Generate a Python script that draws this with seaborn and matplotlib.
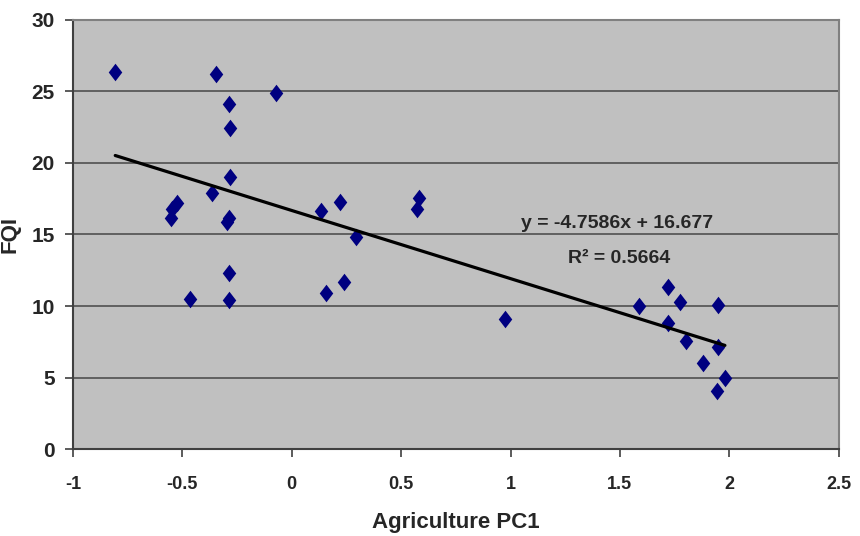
import numpy as np
import pandas as pd
import matplotlib
matplotlib.use("Agg")
import matplotlib.pyplot as plt
from matplotlib.path import Path
import seaborn as sns

# valores
agri_pc1 = [-0.807, -0.345, -0.072, -0.287, -0.284, -0.284, -0.363, -0.526,
            -0.549, -0.552, -0.298, -0.287, -0.287, -0.287, -0.465,
            0.133, 0.220, 0.295, 0.156, 0.239, 0.583, 0.571, 0.973,
            1.588, 1.718, 1.774, 1.947, 1.718, 1.800, 1.947, 1.878, 1.980, 1.942]
fqi = [26.37, 26.19, 24.86, 24.09, 22.42, 19.02, 17.87, 17.17,
       16.75, 16.16, 15.89, 16.12, 12.33, 10.43, 10.52,
       16.65, 17.28, 14.84, 10.93, 11.66, 17.52, 16.75, 9.10,
       10.03, 11.35, 10.26, 10.08, 8.84, 7.59, 7.17, 6.05, 4.97, 4.08]

# linha de tendência (como mostrada no gráfico)
slope = -4.7586
intercept = 16.677
r_squared = 0.5664

x_ticks = [-1, -0.5, 0, 0.5, 1, 1.5, 2, 2.5]
x_tick_labels = ["-1", "-0.5", "0", "0.5", "1", "1.5", "2", "2.5"]
y_ticks = [0, 5, 10, 15, 20, 25, 30]

df = pd.DataFrame({"Agriculture PC1": agri_pc1, "FQI": fqi})

sns.set_style("white")
plt.rcParams["font.family"] = ["Liberation Sans", "DejaVu Sans"]

fig = plt.figure(figsize=(8.6, 5.36), dpi=100)
ax = fig.add_axes([0.0849, 0.1618, 0.8903, 0.8014])
ax.set_facecolor("#C0C0C0")

# losango um pouco mais alto que largo (estilo Excel)
diamond = Path([(0, 1), (0.77, 0), (0, -1), (-0.77, 0), (0, 1)],
               [Path.MOVETO, Path.LINETO, Path.LINETO, Path.LINETO, Path.CLOSEPOLY])

ax.yaxis.grid(True, color="#505050", linewidth=1.2, zorder=0)
ax.set_axisbelow(True)

sns.scatterplot(data=df, x="Agriculture PC1", y="FQI", ax=ax, marker=diamond,
                s=160, color="#000080", edgecolor="#000080", linewidth=0, zorder=3)

x_line = np.array([min(agri_pc1), max(agri_pc1)])
ax.plot(x_line, slope * x_line + intercept, color="black", linewidth=2.3, zorder=4)

ax.text(1.485, 15.78, f"y = {slope}x + {intercept}", ha="center", va="center",
        fontsize=14, fontweight="bold", zorder=5)
ax.text(1.495, 13.34, f"R\u00b2 = {r_squared}", ha="center", va="center",
        fontsize=14, fontweight="bold", zorder=5)

ax.set_xlim(-1, 2.5)
ax.set_ylim(0, 30)
ax.set_xticks(x_ticks)
ax.set_xticklabels(x_tick_labels)
ax.set_yticks(y_ticks)

for lbl in ax.get_xticklabels():
    lbl.set_fontweight("bold")
    lbl.set_fontsize(13)
for lbl in ax.get_yticklabels():
    lbl.set_fontweight("bold")
    lbl.set_fontsize(15)

ax.tick_params(axis="x", direction="out", length=6, width=1.2, color="#404040", pad=13,
               bottom=True)
ax.tick_params(axis="y", direction="out", length=6, width=1.2, color="#404040", pad=7,
               left=True)

ax.set_xlabel("Agriculture PC1", fontsize=16, fontweight="bold", labelpad=14)
ax.set_ylabel("FQI", fontsize=16, fontweight="bold", labelpad=8)

for side in ["left", "bottom"]:
    ax.spines[side].set_color("#404040")
    ax.spines[side].set_linewidth(1.5)
for side in ["top", "right"]:
    ax.spines[side].set_color("#808080")
    ax.spines[side].set_linewidth(1.5)

plt.savefig("out.png", dpi=100)
